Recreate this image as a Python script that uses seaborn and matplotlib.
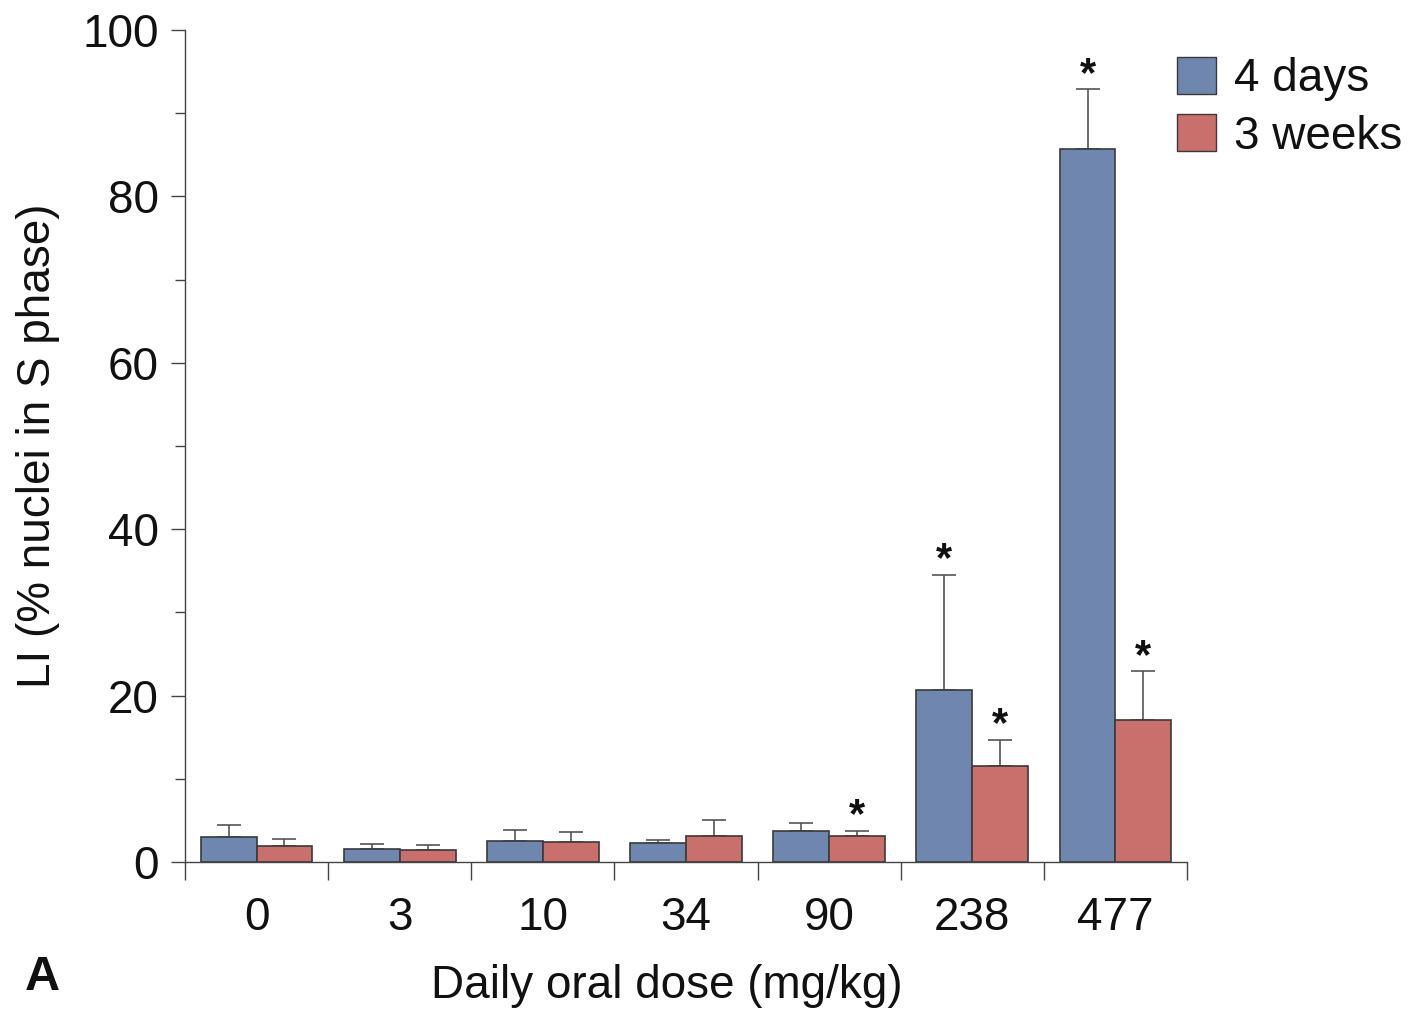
import numpy as np
import pandas as pd
import matplotlib
matplotlib.use("Agg")
import matplotlib.pyplot as plt
import seaborn as sns
from matplotlib.patches import Patch
from matplotlib.container import BarContainer

# ---- data ----
doses = ["0", "3", "10", "34", "90", "238", "477"]
series = ["4 days", "3 weeks"]
days4 = [3.05, 1.56, 2.52, 2.24, 3.68, 20.7, 85.7]
days4_err = [1.45, 0.60, 1.33, 0.44, 0.96, 13.8, 7.2]
weeks3 = [1.96, 1.48, 2.44, 3.12, 3.12, 11.5, 17.1]
weeks3_err = [0.80, 0.60, 1.21, 1.98, 0.65, 3.2, 5.8]
sig_days4 = [False, False, False, False, False, True, True]
sig_weeks3 = [False, False, False, False, True, True, True]
colors = ["#6f86ae", "#c96f6c"]

sns.set_theme(style="white")
plt.rcParams['font.family'] = ['Liberation Sans', 'DejaVu Sans']
plt.rcParams['text.color'] = '#111111'
plt.rcParams['xtick.labelcolor'] = '#111111'
plt.rcParams['ytick.labelcolor'] = '#111111'

fig = plt.figure(figsize=(14.12, 10.09), dpi=100)
ax = fig.add_axes([185/1412, 1-862/1009, 1002/1412, 832/1009])

df = pd.DataFrame({
    "dose": doses * 2,
    "series": [series[0]] * len(doses) + [series[1]] * len(doses),
    "LI": days4 + weeks3,
})

sns.barplot(data=df, x="dose", y="LI", hue="series", order=doses,
            hue_order=series, palette=colors, width=0.78, errorbar=None,
            edgecolor="#3a3a3a", linewidth=1.2, saturation=1, ax=ax,
            legend=False)

errs = [days4_err, weeks3_err]
sigs = [sig_days4, sig_weeks3]
bar_conts = [c for c in ax.containers if isinstance(c, BarContainer)]
for ci, cont in enumerate(bar_conts):
    xs = [b.get_x() + b.get_width() / 2 for b in cont]
    hs = [b.get_height() for b in cont]
    e = errs[ci]
    ax.errorbar(xs, hs, yerr=[np.zeros(len(e)), e], fmt='none',
                ecolor='#555555', elinewidth=1.2, capsize=8.6, capthick=1.2,
                zorder=0.5)
    for x, h, ee, s in zip(xs, hs, e, sigs[ci]):
        if s:
            ax.annotate("*", xy=(x, h + ee), xytext=(0, 2.5),
                        textcoords="offset points", ha='center',
                        va='baseline', fontsize=30, fontweight='bold',
                        color='#111111')

ax.set_xlim(-0.5, 6.5)
ax.set_ylim(0, 100)

# x ticks: marks at group boundaries, labels at centers
ax.set_xticks(np.arange(-0.5, 7.0, 1.0))
ax.set_xticklabels([])
ax.set_xticks(np.arange(len(doses)), minor=True)
ax.set_xticklabels(doses, minor=True, fontsize=33)
ax.tick_params(axis='x', which='major', length=13, width=1.0,
               color='#444444', direction='out', bottom=True)
ax.tick_params(axis='x', which='minor', length=0, pad=24.5, bottom=True,
               labelcolor='#111111')

ax.set_yticks([0, 20, 40, 60, 80, 100])
ax.set_yticklabels(["0", "20", "40", "60", "80", "100"], fontsize=33)
ax.set_yticks([10, 30, 50, 70, 90], minor=True)
ax.tick_params(axis='y', which='major', length=10, width=1.0,
               color='#444444', direction='out', pad=9, left=True,
               labelcolor='#111111')
ax.tick_params(axis='y', which='minor', length=7.5, width=1.0,
               color='#444444', direction='out', left=True)

for sp in ['top', 'right']:
    ax.spines[sp].set_visible(False)
for sp in ['left', 'bottom']:
    ax.spines[sp].set_color('#444444')
    ax.spines[sp].set_linewidth(1.0)

ax.set_ylabel("LI (% nuclei in S phase)", fontsize=33, color='#111111')
ax.yaxis.set_label_coords(-0.125, 0.5)
ax.set_xlabel("Daily oral dose (mg/kg)", fontsize=33, color='#111111')
ax.xaxis.set_label_coords(0.481, -0.1226)

handles = [Patch(facecolor=c, edgecolor='#3a3a3a', linewidth=1.0) for c in colors]
leg = fig.legend(handles, series, loc='upper left',
                 bbox_to_anchor=(1177/1412, 1 - 57/1009), frameon=False,
                 fontsize=33, handlelength=0.85, handleheight=0.85,
                 handletextpad=0.4, labelspacing=0.29, borderpad=0,
                 borderaxespad=0)
for t in leg.get_texts():
    t.set_color('#111111')

fig.text(25/1412, 1 - 990/1009, "A", fontsize=35, fontweight='bold',
         ha='left', va='baseline', color='#111111')

fig.savefig("out.png", dpi=100)
